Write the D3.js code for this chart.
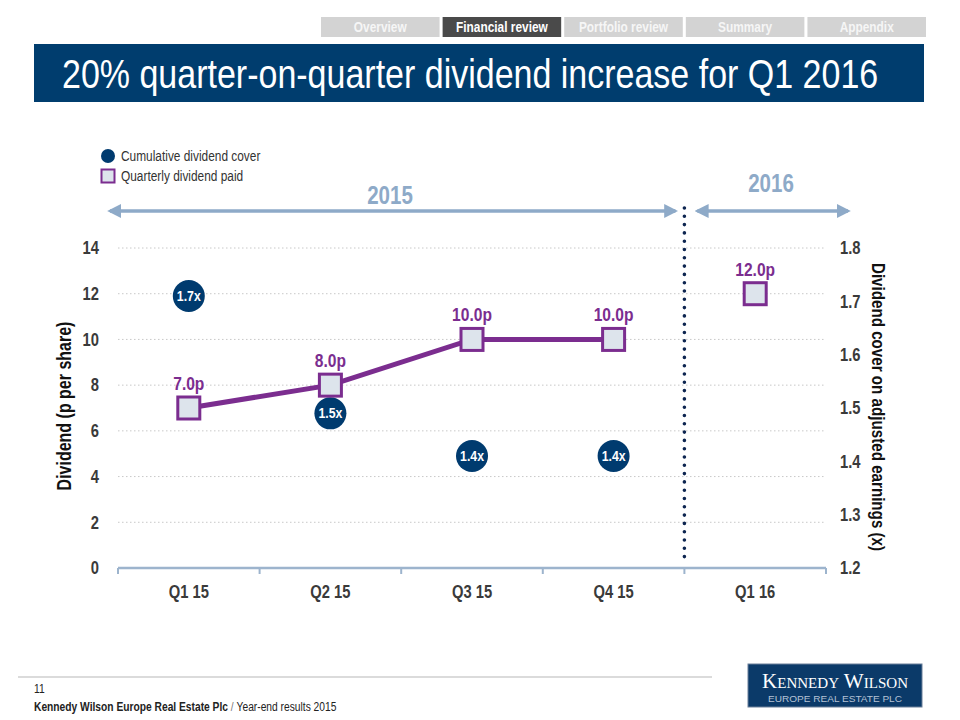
<!DOCTYPE html>
<html>
<head>
<meta charset="utf-8">
<script src="https://cdn.jsdelivr.net/npm/d3@7"></script>
<style>
  body { margin: 0; background: #fff; }
  svg { display: block; }
  text { font-family: "Liberation Sans", Arial, sans-serif; }
</style>
</head>
<body>
<div id="chart"></div>
<script>
// chart data
var quarters = ["Q1 15", "Q2 15", "Q3 15", "Q4 15", "Q1 16"];
var dividends = [7.0, 8.0, 10.0, 10.0, 12.0];
var dividendLabels = ["7.0p", "8.0p", "10.0p", "10.0p", "12.0p"];
var cover = [1.71, 1.49, 1.41, 1.41, null];
var coverLabels = ["1.7x", "1.5x", "1.4x", "1.4x", ""];
var leftTicks = [0, 2, 4, 6, 8, 10, 12, 14];
var rightTicks = [1.2, 1.3, 1.4, 1.5, 1.6, 1.7, 1.8];
var navTabs = ["Overview", "Financial review", "Portfolio review", "Summary", "Appendix"];

var purple = "#7b2d8f", navy = "#003b6f", steel = "#8eaac8";
var NARROW = 0.82; // no Arial Narrow here, so squeeze Liberation Sans

var svg = d3.select("#chart").append("svg")
    .attr("width", 960)
    .attr("height", 720);

// narrow text helper
function ntext(g, x, y, rot, sx){
    return g.append("text")
        .attr("transform", "translate(" + x + "," + y + ")" + (rot ? " rotate(" + rot + ")" : "") + " scale(" + (sx || NARROW) + ",1)");
}

// nav tabs
var tabX = d3.scaleBand().domain(navTabs).range([321, 926]).paddingInner(0.025);
var tabs = svg.append("g").selectAll("g").data(navTabs).enter().append("g");
tabs.append("rect")
    .attr("x", function(d){ return tabX(d); })
    .attr("y", 17).attr("width", tabX.bandwidth()).attr("height", 20)
    .style("fill", function(d){ return d == "Financial review" ? "#4a4a4a" : "#d3d3d3"; });
tabs.each(function(d){
    ntext(d3.select(this), tabX(d) + tabX.bandwidth() / 2, 32)
        .attr("text-anchor", "middle")
        .style("font-size", "14.5px").style("font-weight", "bold")
        .style("fill", d == "Financial review" ? "#fff" : "#f6f6f6")
        .text(d);
});

// title band
svg.append("rect").attr("x", 34).attr("y", 44).attr("width", 890).attr("height", 58).style("fill", "#003d6e");
ntext(svg, 62, 88, 0, 0.85)
    .style("font-size", "40px").style("fill", "#fff")
    .text("20% quarter-on-quarter dividend increase for Q1 2016");

// scales
var margin = { left: 118, right: 826, top: 248, bottom: 568 };
var x = d3.scaleBand().domain(quarters).range([margin.left, margin.right]);
var yL = d3.scaleLinear().domain([0, 14]).range([margin.bottom, margin.top]);
var yR = d3.scaleLinear().domain([1.2, 1.8]).range([margin.bottom, margin.top]);
var cx = function(i){ return x(quarters[i]) + x.bandwidth() / 2; };

// gridlines
svg.append("g").selectAll("line").data(leftTicks.slice(1)).enter().append("line")
    .attr("x1", margin.left).attr("x2", margin.right)
    .attr("y1", function(d){ return yL(d); }).attr("y2", function(d){ return yL(d); })
    .style("stroke", "#c8c8c8").style("stroke-width", 1).style("stroke-dasharray", "1.5,2.5");

function tickStyle(sel){
    sel.selectAll("text")
        .style("font-size", "18px").style("font-weight", "bold").style("fill", "#3a3a3a")
        .attr("transform", "scale(" + NARROW + ",1)");
}

// x axis
var xAxis = svg.append("g").attr("transform", "translate(0," + margin.bottom + ")")
    .call(d3.axisBottom(x).tickSize(0).tickPadding(17));
xAxis.select(".domain").remove();
tickStyle(xAxis);
svg.append("line").attr("x1", margin.left).attr("x2", margin.right)
    .attr("y1", margin.bottom).attr("y2", margin.bottom)
    .style("stroke", "#9db4cd").style("stroke-width", 2.5);
var bounds = quarters.map(function(q){ return x(q); }).concat([margin.right]);
svg.append("g").selectAll("line").data(bounds).enter().append("line")
    .attr("x1", function(d){ return d; }).attr("x2", function(d){ return d; })
    .attr("y1", margin.bottom).attr("y2", margin.bottom + 6)
    .style("stroke", "#9db4cd").style("stroke-width", 2);

// left axis
var left = svg.append("g").attr("transform", "translate(99,0)")
    .call(d3.axisLeft(yL).tickValues(leftTicks).tickSize(0).tickPadding(0));
left.select(".domain").remove();
tickStyle(left);

// right axis
var right = svg.append("g").attr("transform", "translate(840,0)")
    .call(d3.axisRight(yR).tickValues(rightTicks).tickFormat(d3.format(".1f")).tickSize(0).tickPadding(0));
right.select(".domain").remove();
tickStyle(right);

// axis titles
ntext(svg, 71, 406, -90)
    .attr("text-anchor", "middle").style("font-size", "19.5px").style("font-weight", "bold").style("fill", "#111")
    .text("Dividend (p per share)");
ntext(svg, 872, 407, 90)
    .attr("text-anchor", "middle").style("font-size", "18.5px").style("font-weight", "bold").style("fill", "#111")
    .text("Dividend cover on adjusted earnings (x)");

// year arrows
var defs = svg.append("defs");
defs.append("marker").attr("id", "arrow").attr("viewBox", "0 0 10 10")
    .attr("refX", 8).attr("refY", 5).attr("markerWidth", 4).attr("markerHeight", 4)
    .attr("orient", "auto-start-reverse")
  .append("path").attr("d", "M0,0L10,5L0,10z").style("fill", steel);

var splitX = x("Q1 16");
[[107, splitX - 6, "2015", 390, 204], [splitX + 10, 851, "2016", 771, 192]].forEach(function(a){
    svg.append("line").attr("x1", a[0] + 3).attr("x2", a[1] - 3).attr("y1", 211).attr("y2", 211)
        .style("stroke", steel).style("stroke-width", 3.5)
        .attr("marker-start", "url(#arrow)").attr("marker-end", "url(#arrow)");
    ntext(svg, a[3], a[4])
        .attr("text-anchor", "middle")
        .style("font-size", "25px").style("font-weight", "bold").style("fill", steel).text(a[2]);
});

// dotted divider
svg.append("line").attr("x1", splitX).attr("x2", splitX).attr("y1", 208).attr("y2", 558)
    .style("stroke", "#0d2550").style("stroke-width", 3.6).style("stroke-linecap", "round")
    .style("stroke-dasharray", "0,8.3");

// dividend line (2015 only)
var line = d3.line()
    .defined(function(d, i){ return i < 4; })
    .x(function(d, i){ return cx(i); })
    .y(function(d){ return yL(d); });
svg.append("path").datum(dividends).attr("d", line)
    .style("fill", "none").style("stroke", purple).style("stroke-width", 5);

// cover circles
var covers = svg.append("g").selectAll("g").data(cover).enter()
  .filter(function(d){ return d != null; })
  .append("g");
covers.append("circle")
    .attr("cx", function(d, i){ return cx(i); })
    .attr("cy", function(d){ return yR(d); })
    .attr("r", 16).style("fill", navy);
covers.each(function(d, i){
    ntext(d3.select(this), cx(i), yR(d) + 5)
        .attr("text-anchor", "middle").style("font-size", "15px").style("font-weight", "bold").style("fill", "#fff")
        .text(coverLabels[i]);
});

// dividend squares
svg.append("g").selectAll("rect").data(dividends).enter().append("rect")
    .attr("x", function(d, i){ return cx(i) - 11; })
    .attr("y", function(d){ return yL(d) - 11; })
    .attr("width", 22).attr("height", 22)
    .style("fill", "#dde4ec").style("stroke", purple).style("stroke-width", 3);
var labels = svg.append("g");
dividends.forEach(function(d, i){
    ntext(labels, cx(i), yL(d) - 18)
        .attr("text-anchor", "middle").style("font-size", "19px").style("font-weight", "bold").style("fill", purple)
        .text(dividendLabels[i]);
});

// legend
svg.append("circle").attr("cx", 108).attr("cy", 156).attr("r", 7).style("fill", navy);
svg.append("rect").attr("x", 101.5).attr("y", 169.5).attr("width", 13).attr("height", 13)
    .style("fill", "#dde4ec").style("stroke", purple).style("stroke-width", 2);
ntext(svg, 121, 161).style("font-size", "14.5px").style("fill", "#333").text("Cumulative dividend cover");
ntext(svg, 121, 181).style("font-size", "14.5px").style("fill", "#333").text("Quarterly dividend paid");

// footer
svg.append("line").attr("x1", 18).attr("x2", 712).attr("y1", 677).attr("y2", 677)
    .style("stroke", "#cfcfcf").style("stroke-width", 1.5);
ntext(svg, 34, 693).style("font-size", "12.5px").style("fill", "#222").text("11");
var foot = ntext(svg, 34, 711).style("font-size", "12.5px").style("fill", "#222");
foot.append("tspan").style("font-weight", "bold").text("Kennedy Wilson Europe Real Estate Plc");
foot.append("tspan").style("fill", "#777").text("  /  ");
foot.append("tspan").text("Year-end results 2015");

// logo
svg.append("rect").attr("x", 748).attr("y", 664).attr("width", 174).attr("height", 43).style("fill", "#0b3a69")
    .style("stroke", "#6b7f99").style("stroke-width", 1);
svg.append("text").attr("x", 762).attr("y", 688)
    .attr("textLength", 146).attr("lengthAdjust", "spacingAndGlyphs")
    .style("font-family", "'Liberation Serif', 'DejaVu Serif', serif").style("font-size", "21px").style("fill", "#fff")
    .style("font-variant", "small-caps").text("Kennedy Wilson");
svg.append("text").attr("x", 768).attr("y", 702)
    .attr("textLength", 134).attr("lengthAdjust", "spacingAndGlyphs")
    .style("font-family", "'Liberation Sans', Arial, sans-serif").style("font-size", "8.5px")
    .style("fill", "#b5c3d6").text("EUROPE REAL ESTATE PLC");
</script>
</body>
</html>
